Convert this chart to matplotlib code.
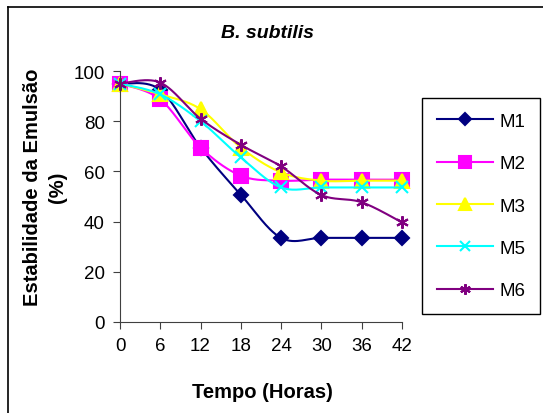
import numpy as np
import matplotlib.pyplot as plt
from matplotlib.lines import Line2D

plt.rcParams['font.family'] = ['Liberation Sans', 'DejaVu Sans']

#Data.
tempo = [0, 6, 12, 18, 24, 30, 36, 42]
m1 = [95, 92.5, 69.5, 50.7, 33.5, 33.5, 33.5, 33.5]
m2 = [95, 88.7, 69.5, 58.3, 56.3, 56.7, 56.7, 56.7]
m3 = [95, 90.7, 84.8, 69.5, 59.6, 56.3, 56.3, 56.3]
m5 = [95, 90.7, 80.0, 65.6, 53.6, 53.6, 53.6, 53.6]
m6 = [95, 95.4, 81.0, 70.6, 62.0, 50.6, 47.7, 39.7]
labels = ['M1', 'M2', 'M3', 'M5', 'M6']

#Excel style smoothed line (bezier through the points).
def smooth(x, y, n=30):
    x = np.asarray(x, float)
    y = np.asarray(y, float)
    px = np.concatenate([[x[0]], x, [x[-1]]])
    py = np.concatenate([[y[0]], y, [y[-1]]])
    t = np.linspace(0, 1, n)
    xs, ys = [], []
    for i in range(1, len(px) - 2):
        c1x = px[i] + (px[i + 1] - px[i - 1]) / 6
        c1y = py[i] + (py[i + 1] - py[i - 1]) / 6
        c2x = px[i + 1] - (px[i + 2] - px[i]) / 6
        c2y = py[i + 1] - (py[i + 2] - py[i]) / 6
        b0 = (1 - t) ** 3
        b1 = 3 * (1 - t) ** 2 * t
        b2 = 3 * (1 - t) * t ** 2
        b3 = t ** 3
        xs.append(b0 * px[i] + b1 * c1x + b2 * c2x + b3 * px[i + 1])
        ys.append(b0 * py[i] + b1 * c1y + b2 * c2y + b3 * py[i + 1])
    return np.concatenate(xs), np.concatenate(ys)

fig = plt.figure(figsize=(5.43, 4.14), dpi=100)
ax = fig.add_axes([0.221, 0.220, 0.519, 0.606])

styles = [
    ('#000080', 'D', 7.5),
    ('#FF00FF', 's', 9.5),
    ('#FFFF00', '^', 10),
    ('#00FFFF', 'x', 8),
    ('#800080', (6, 2, 0), 9),
]
series = [m1, m2, m3, m5, m6]

handles = []
for vals, (col, mk, ms), lab in zip(series, styles, labels):
    sx, sy = smooth(tempo, vals)
    ax.plot(sx, sy, color=col, lw=1.5, clip_on=False)
    ax.plot(tempo, vals, ls='none', marker=mk, ms=ms, color=col,
            markeredgecolor=col, mew=1.5, clip_on=False)
    handles.append(Line2D([], [], color=col, lw=1.5, marker=mk, ms=ms * 0.85,
                          markeredgecolor=col, mew=1.5, label=lab))

ax.set_xlim(0, 42)
ax.set_ylim(0, 100)
ax.set_xticks(tempo)
ax.set_yticks([0, 20, 40, 60, 80, 100])
ax.spines['top'].set_visible(False)
ax.spines['right'].set_visible(False)
ax.spines['left'].set_color('#404040')
ax.spines['bottom'].set_color('#404040')
ax.tick_params(labelsize=13.5, length=5, color='#404040', pad=6)

fig.text(0.492, 0.92, 'B. subtilis', ha='center', va='center',
         fontsize=14, fontweight='bold', style='italic')
fig.text(0.4825, 0.051, 'Tempo (Horas)', ha='center', va='center',
         fontsize=14.5, fontweight='bold')
fig.text(0.083, 0.548, 'Estabilidade da Emulsão\n(%)', ha='center',
         va='center', rotation=90, multialignment='center',
         fontsize=14.5, fontweight='bold', linespacing=1.4)

leg = fig.legend(handles=handles, loc='center', bbox_to_anchor=(0.886, 0.5),
                 fontsize=13.5, handlelength=3, handletextpad=0.3,
                 labelspacing=1.35, borderpad=0.8, fancybox=False,
                 edgecolor='black', framealpha=1)
leg.get_frame().set_linewidth(1.0)

#Outer frame, only left and top edges fall inside the image.
fig.add_artist(Line2D([8 / 543, 8 / 543], [0, 1 - 8 / 414], color='black',
                      lw=1.2, transform=fig.transFigure))
fig.add_artist(Line2D([8 / 543, 1], [1 - 8 / 414, 1 - 8 / 414], color='black',
                      lw=1.2, transform=fig.transFigure))

fig.savefig('out.png', dpi=100)
